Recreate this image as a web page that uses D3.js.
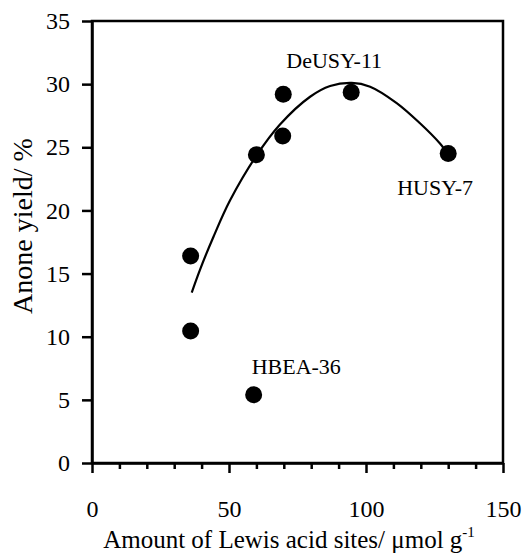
<!DOCTYPE html>
<html lang="en">
<head>
    <meta charset="UTF-8"/>
    <title>d3</title>
    <script src="https://d3js.org/d3.v7.min.js"></script>
    <style>
        body { margin: 0; background: #fff; }
        text { font-family: "Liberation Serif", "Times New Roman", serif; fill: #000; }
        .axis path, .axis line { fill: none; stroke: #000; stroke-width: 2.5; }
        .axis text { font-size: 24px; }
        .dot { fill: #000; }
    </style>
</head>
<body></body>
<script type="text/javascript">
    // measured points: Lewis acid sites (umol/g) vs anone yield (%)
    let lewisSites = [36, 36, 59, 60, 69.6, 69.8, 94.6, 130];
    let anoneYield = [16.4, 10.45, 5.4, 24.4, 25.9, 29.2, 29.35, 24.5];

    // trend line
    let fitX = [36.4, 39.4, 44.3, 50.4, 59.9, 68.6, 79.6, 86.9, 94.8, 101.5, 111.2, 119.7, 127, 128.8];
    let fitY = [13.5, 15.3, 17.9, 20.8, 24.3, 26.8, 29.0, 29.85, 30.1, 29.8, 28.5, 26.9, 25.3, 24.8];

    // sample names and the point they belong to
    let sampleNames = ["DeUSY-11", "HUSY-7", "HBEA-36"];
    let samplePoint = [6, 7, 2];

    let xTicks = [0, 50, 100, 150];
    let xMinorTicks = [10, 20, 30, 40, 60, 70, 80, 90, 110, 120, 130, 140];
    let yTicks = [0, 5, 10, 15, 20, 25, 30, 35];

    let width = 526, height = 553;
    let plotLeft = 92, plotRight = 503, plotTop = 21, plotBottom = 463;

    let svg = d3.select("body").append("svg")
        .attr("width", width)
        .attr("height", height);

    let scaleX = d3.scaleLinear().domain([0, 150]).range([plotLeft, plotRight]);
    let scaleY = d3.scaleLinear().domain([0, 35]).range([plotBottom, plotTop]);

    // frame
    svg.append("rect")
        .attr("x", plotLeft).attr("y", plotTop)
        .attr("width", plotRight - plotLeft).attr("height", plotBottom - plotTop)
        .style("fill", "none").style("stroke", "#000").style("stroke-width", 2.5);

    // minor ticks on x
    svg.append("g")
        .attr("class", "axis")
        .attr("transform", "translate(0," + plotBottom + ")")
        .call(d3.axisBottom(scaleX).tickValues(xMinorTicks).tickSize(6).tickFormat(""))
        .select(".domain").remove();

    svg.append("g")
        .attr("class", "axis")
        .attr("transform", "translate(0," + plotBottom + ")")
        .call(d3.axisBottom(scaleX).tickValues(xTicks).tickSize(10).tickSizeOuter(0).tickPadding(27));

    svg.append("g")
        .attr("class", "axis")
        .attr("transform", "translate(" + plotLeft + ",0)")
        .call(d3.axisLeft(scaleY).tickValues(yTicks).tickSize(10).tickSizeOuter(0).tickPadding(12));

    // trend line
    let fitData = fitX.map((x, i) => [x, fitY[i]]);
    let line = d3.line()
        .x(d => scaleX(d[0]))
        .y(d => scaleY(d[1]))
        .curve(d3.curveCatmullRom);
    svg.append("path")
        .attr("d", line(fitData))
        .style("fill", "none")
        .style("stroke", "#000")
        .style("stroke-width", 2.2);

    // points
    let points = lewisSites.map((x, i) => ({x: x, y: anoneYield[i]}));
    svg.selectAll(".dot")
        .data(points)
        .enter().append("circle")
        .attr("class", "dot")
        .attr("r", 8.5)
        .attr("cx", d => scaleX(d.x))
        .attr("cy", d => scaleY(d.y));

    // sample labels
    let labelOffset = [[-17, -24, "middle"], [-51, 41, "start"], [-2, -21, "start"]];
    svg.selectAll(".sample")
        .data(sampleNames)
        .enter().append("text")
        .attr("class", "sample")
        .attr("x", (d, i) => scaleX(points[samplePoint[i]].x) + labelOffset[i][0])
        .attr("y", (d, i) => scaleY(points[samplePoint[i]].y) + labelOffset[i][1])
        .attr("text-anchor", (d, i) => labelOffset[i][2])
        .style("font-size", "22px")
        .text(d => d);

    // axis titles
    let xTitle = svg.append("text")
        .attr("x", 289)
        .attr("y", 548)
        .attr("text-anchor", "middle")
        .style("font-size", "25px");
    xTitle.append("tspan").text("Amount of Lewis acid sites/ \u03bcmol g");
    xTitle.append("tspan").attr("dy", -11).style("font-size", "15px").text("-1");

    svg.append("text")
        .attr("transform", "translate(32,226) rotate(-90)")
        .attr("text-anchor", "middle")
        .style("font-size", "28px")
        .text("Anone yield/ %");
</script>
</html>
